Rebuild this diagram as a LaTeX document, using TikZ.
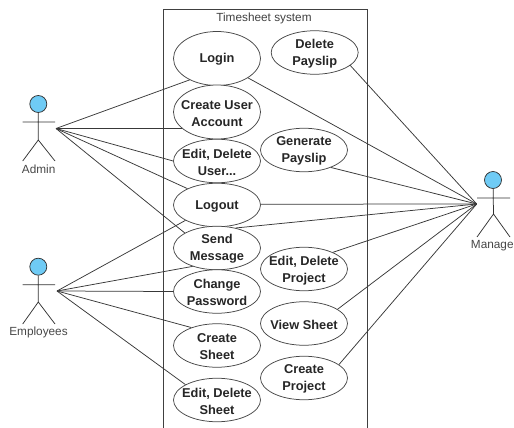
\documentclass[tikz,border=0pt]{standalone}
\usepackage{fontspec}
\setmainfont{Liberation Sans}
\usetikzlibrary{shapes.geometric}
\definecolor{headblue}{HTML}{6FCBF5}
\tikzset{
  ln/.style={draw=black!78,line width=0.75pt},
  uc/.style={ellipse,draw=black!72,line width=0.75pt,fill=white,inner sep=0pt,minimum width=87pt},
  uctall/.style={uc,minimum height=54pt},
  ucmid/.style={uc,minimum height=43.5pt},
  uctext/.style={font=\fontsize{12.8}{17}\bfseries\selectfont,align=center,text=black!85,inner sep=0pt,yshift=-1.2pt},
  actor/.style={font=\fontsize{11.8}{13}\selectfont,text=black!72,inner sep=0pt},
  head/.style={circle,draw=black!80,line width=0.75pt,fill=headblue,minimum size=17pt,inner sep=0pt},
  stick/.style={draw=black!80,line width=0.75pt},
  ucl/.style={label={[uctext]center:#1}}
}
\begin{document}
\begin{tikzpicture}[x=1pt,y=-1pt]
\useasboundingbox (0,0) rectangle (514,428);
% system boundary (open at the bottom)
\draw[draw=black!75,line width=0.8pt] (163,428) -- (163,9.5) -- (367.7,9.5) -- (367.7,428);
\node[font=\fontsize{11.8}{13}\selectfont,text=black!75,inner sep=0pt] (title) at (264,18) {Timesheet system};
% use cases
\node[uctall,ucl={Login}] (login) at (217,58.5) {};
\node[uctall,ucl={Create User\\Account}] (create) at (217,112) {};
\node[ucmid,ucl={Edit, Delete\\User...}] (edituser) at (217,161) {};
\node[ucmid,ucl={Logout}] (logout) at (217,205) {};
\node[ucmid,ucl={Send\\Message}] (send) at (217,248) {};
\node[ucmid,ucl={Change\\Password}] (change) at (217,291.5) {};
\node[ucmid,ucl={Create\\Sheet}] (csheet) at (217,345.5) {};
\node[ucmid,ucl={Edit, Delete\\Sheet}] (esheet) at (217,400) {};
\node[ucmid,ucl={Delete\\Payslip}] (dpay) at (314.7,52.5) {};
\node[ucmid,ucl={Generate\\Payslip}] (gpay) at (304,150) {};
\node[ucmid,ucl={Edit, Delete\\Project}] (eproj) at (304,269) {};
\node[ucmid,ucl={View Sheet}] (view) at (304,323.5) {};
\node[ucmid,ucl={Create\\Project}] (cproj) at (304,378) {};
% Admin
\node[head] (adminhead) at (38.3,104) {};
\coordinate (adminhip) at (38.3,140);
\coordinate (adminarmL) at (22.5,122);
\coordinate (adminarmR) at (55,122);
\coordinate (adminfootL) at (22.7,161);
\coordinate (adminfootR) at (55,161);
\coordinate (adminhub) at (56,128.5);
\draw[stick] (adminhead) -- (adminhip) (adminarmL) -- (adminarmR) (adminfootL) -- (adminhip) -- (adminfootR);
\node[actor] (admin) at (38.7,169.5) {Admin};
% Employees
\node[head] (emphead) at (38.3,266.7) {};
\coordinate (emphip) at (38.3,302);
\coordinate (emparmL) at (22.5,284.7);
\coordinate (emparmR) at (55,284.7);
\coordinate (empfootL) at (22.7,324);
\coordinate (empfootR) at (55,324);
\coordinate (emphub) at (57,291);
\draw[stick] (emphead) -- (emphip) (emparmL) -- (emparmR) (empfootL) -- (emphip) -- (empfootR);
\node[actor] (employees) at (38.5,332.5) {Employees};
% Manage
\node[head] (manhead) at (493,180) {};
\coordinate (manhip) at (493.5,214);
\coordinate (manarmL) at (477,198);
\coordinate (manarmR) at (510,198);
\coordinate (manfootL) at (477,237);
\coordinate (manfootR) at (510,237);
\coordinate (manhub) at (476.7,204);
\draw[stick] (manhead) -- (manhip) (manarmL) -- (manarmR) (manfootL) -- (manhip) -- (manfootR);
\node[actor] (manage) at (492.3,246) {Manage};
% connectors
\draw[ln] (adminhub) -- (login.218.5);
\draw[ln] (adminhub) -- (create.205.4);
\draw[ln] (adminhub) -- (edituser.west);
\draw[ln] (adminhub) -- (logout.151);
\draw[ln] (adminhub) -- (send.155);
\draw[ln] (emphub) -- (logout.206);
\draw[ln] (emphub) -- (send.217);
\draw[ln] (emphub) -- (change.west);
\draw[ln] (emphub) -- (csheet.145.8);
\draw[ln] (emphub) -- (esheet.154.6);
\draw[ln] (manhub) -- (login.-32);
\draw[ln] (manhub) -- (dpay.-20);
\draw[ln] (manhub) -- (gpay.-33.5);
\draw[ln] (manhub) -- (logout.1.3);
\draw[ln] (manhub) -- (send.47);
\draw[ln] (manhub) -- (eproj.30.5);
\draw[ln] (manhub) -- (view.23.5);
\draw[ln] (manhub) -- (cproj.21);
\end{tikzpicture}
\end{document}
